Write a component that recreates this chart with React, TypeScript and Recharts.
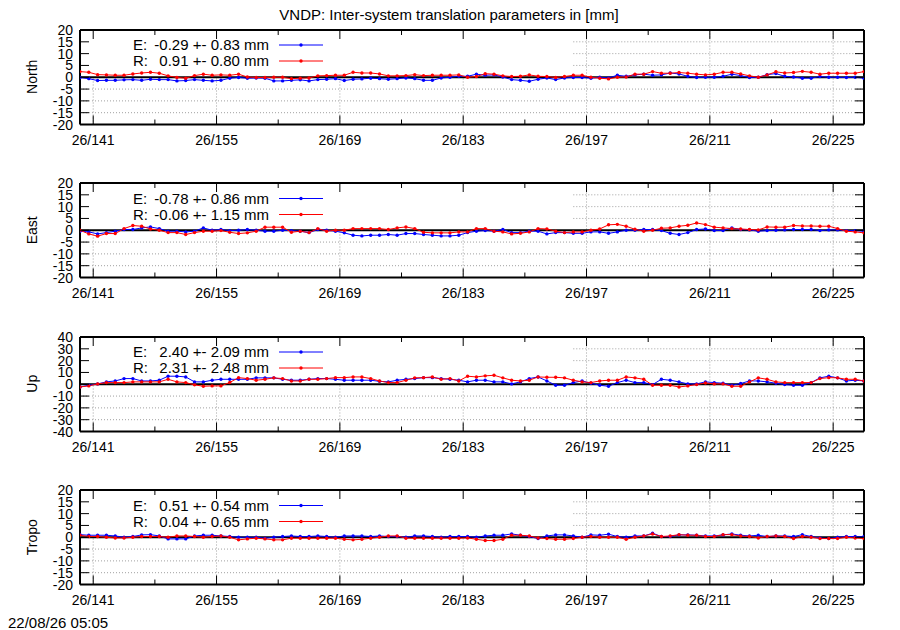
import React from 'react';
import { LineChart, Line, XAxis, YAxis, ReferenceLine } from 'recharts';

// ---------- data ----------
const DAYS = [
  139.5, 140.5, 141.5, 142.5, 143.5, 144.5, 145.5, 146.5, 147.5, 148.5,
  149.5, 150.5, 151.5, 152.5, 153.5, 154.5, 155.5, 156.5, 157.5, 158.5,
  159.5, 160.5, 161.5, 162.5, 163.5, 164.5, 165.5, 166.5, 167.5, 168.5,
  169.5, 170.5, 171.5, 172.5, 173.5, 174.5, 175.5, 176.5, 177.5, 178.5,
  179.5, 180.5, 181.5, 182.5, 183.5, 184.5, 185.5, 186.5, 187.5, 188.5,
  189.5, 190.5, 191.5, 192.5, 193.5, 194.5, 195.5, 196.5, 197.5, 198.5,
  199.5, 200.5, 201.5, 202.5, 203.5, 204.5, 205.5, 206.5, 207.5, 208.5,
  209.5, 210.5, 211.5, 212.5, 213.5, 214.5, 215.5, 216.5, 217.5, 218.5,
  219.5, 220.5, 221.5, 222.5, 223.5, 224.5, 225.5, 226.5, 227.5, 228.5,
];

const MAJOR_DAYS = [141, 155, 169, 183, 197, 211, 225];
const MAJOR_LABELS = ['26/141', '26/155', '26/169', '26/183', '26/197', '26/211', '26/225'];
const X_TICKS = [141, 148, 155, 162, 169, 176, 183, 190, 197, 204, 211, 218, 225];
const Y_TICKS_20 = [-20, -15, -10, -5, 0, 5, 10, 15, 20];
const Y_TICKS_40 = [-40, -30, -20, -10, 0, 10, 20, 30, 40];

const NORTH_E = [
  -0.1, -0.6, -1.4, -1.3, -1.3, -1.1, -1.0, -1.3, -0.85, -1.0,
  -1.0, -1.55, -1.4, -1.0, -1.3, -1.55, -1.3, -0.4, -0.1, -0.4,
  -0.3, -0.4, -1.55, -1.55, -1.3, -1.1, -1.55, -1.0, -0.85, -0.6,
  -1.4, -0.85, -0.7, -0.4, -0.6, -0.85, -0.6, -0.3, -0.6, -1.3,
  -1.3, -0.3, 0.0,
  0.4, 0.4, 1.3, 0.85, 1.0, 0.1, -1.0, -1.3, -1.7, -0.85,
  -0.3, -1.0, -0.3, -0.1, -0.1, -0.4, 0.0, -0.3, 0.85, 0.4,
  1.0, 1.3, 0.85, 1.0, 1.8, 1.4, 0.4, -0.1, 0.0, 0.0,
  0.4, 1.3, 0.7, -0.1, 0.0, 1.1, 1.55, 0.4, 0.1, -0.4,
  -0.4, 0.3, 0.0, 0.0, -0.1, 0.0, -0.4,
];
const NORTH_R = [
  2.4, 2.1, 1.1, 1.0, 0.85, 0.85, 1.4, 1.8, 2.1, 1.7,
  0.6, -0.1, -0.4, 0.7, 1.3, 0.85, 1.0, 0.85, 1.3, 0.1,
  -0.1, -0.1, 0.0, 0.0, -0.6, -0.4, -0.3, 0.6, 0.7, 0.85,
  0.85, 2.1, 1.8, 1.8, 1.4, 0.6, 0.6, 0.7, 1.1, 0.7,
  0.85, 0.85, 0.85,
  1.0, 0.0, 0.3, 1.5, 1.3, 0.6, 0.3, 0.4, 1.0, 0.4,
  0.3, -0.1, 0.3, 0.85, 0.85, 0.0, -0.4, -0.7, 0.0, 0.1,
  1.3, 1.3, 2.4, 1.7, 1.7, 2.0, 1.7, 1.3, 1.0, 1.3,
  2.1, 2.1, 1.4, 0.6, 0.0, 1.0, 2.3, 1.8, 2.0, 2.5,
  2.1, 1.3, 1.7, 1.7, 1.7, 1.7, 2.4,
];
const EAST_E = [
  -0.4, -0.7, -1.55, -1.0, -0.4, 0.3, 0.3, 1.0, 1.4, 0.7,
  -0.4, -0.4, -0.7, -0.4, 1.0, 0.0, 0.3, -0.15, 0.0, 0.3,
  0.0, -0.4, -0.4, 0.0, -0.15, -0.4, -1.0, 0.3, 0.0, -0.4,
  -1.1, -2.1, -2.4, -2.1, -2.1, -1.8, -2.1, -1.4, -1.4, -1.8,
  -2.1, -2.4, -2.4, -2.1, -1.0,
  -0.4, -0.15, -0.4, 0.3, -1.0, -1.0, -0.4, -0.4, -1.55, -1.0,
  -1.0, -1.3, -1.3, -0.7, -0.7, -1.3, -0.7, 0.0, 0.0, 0.3,
  0.3, -0.15, -1.3, -1.8, -1.0, 0.3, 0.55, -0.15, -0.15, 1.0,
  0.3, 0.15, -0.4, -0.15, 0.0, 0.15, 0.3, 0.3, 0.3, -0.15,
  0.15, 0.15, -0.15, -0.15, -0.4,
];
const EAST_R = [
  0.0, -1.55, -2.5, -1.4, -1.4, 0.7, 2.0, 1.7, 0.55, 0.0,
  -1.0, -1.0, -1.8, -1.0, -0.4, -0.4, -0.15, -0.85, -1.4, -1.1,
  -0.4, 1.3, 1.3, 1.3, -0.85, -0.4, -1.0, 0.7, -0.4, 0.0,
  0.0, 0.7, 0.7, 0.7, 0.7, 0.3, 1.0, 1.4, 0.7, -0.85,
  -1.1, -1.1, -1.1, -0.7, -0.7,
  0.7, 0.7, -0.4, -0.7, -1.55, -1.3, -0.7, 0.7, 0.55, -0.4,
  -1.0, -0.7, -0.7, 0.0, 0.55, 2.3, 2.5, 1.7, 0.4, -0.4,
  0.0, 0.85, 1.0, 1.7, 2.1, 3.1, 2.4, 1.3, 1.0, 0.7,
  0.55, 0.3, 0.15, 1.4, 1.3, 1.3, 2.0, 1.8, 1.8, 1.7,
  1.7, 0.7, -0.4, -0.7, -1.1,
];
const UP_E = [
  -2.3, -0.85, 0.3, 2.0, 2.8, 4.8, 4.8, 2.8, 2.8, 3.4,
  6.8, 6.8, 6.2, 2.0, 2.0, 3.4, 4.2, 4.2, 4.2, 4.2,
  5.4, 5.4, 5.4, 4.2, 3.4, 3.4, 4.2, 4.8, 4.8, 4.2,
  3.4, 3.4, 3.4, 3.4, 2.5, 2.0, 3.4, 4.2, 4.8, 5.6,
  5.6, 4.8, 4.2, 3.4, 2.0,
  3.4, 3.4, 2.0, 2.0, 0.3, 2.0, 4.8, 6.2, 2.8, -0.85,
  -0.85, 1.4, 2.8, 0.85, -0.85, -1.7, 1.4, 3.4, 1.4, 1.4,
  -0.3, 4.2, 3.4, 2.0, 0.3, 0.3, 2.0, 1.4, 0.85, -0.85,
  0.6, 2.8, 2.8, 2.0, 0.85, -0.3, -0.85, -0.85, 1.4, 5.4,
  6.8, 5.4, 2.8, 3.4, 2.8,
];
const UP_R = [
  -2.3, -1.4, 0.3, 1.4, 1.4, 1.4, 2.0, 2.0, 2.0, 2.0,
  4.2, 2.0, 1.4, -0.5, -1.7, -1.4, -1.4, 1.5, 5.6, 4.8,
  3.4, 4.2, 5.4, 4.8, 2.8, 2.8, 4.2, 4.2, 4.8, 5.6,
  5.6, 6.2, 6.2, 4.8, 2.8, 1.4, 1.4, 3.4, 5.4, 5.6,
  6.2, 4.2, 4.8, 2.8, 6.8,
  6.2, 7.1, 7.6, 5.4, 3.4, 2.8, 3.4, 6.2, 5.9, 5.9,
  5.4, 3.4, 2.0, 1.4, 2.8, 3.4, 3.4, 6.2, 5.4, 4.2,
  -0.85, -0.85, -0.85, -2.3, -1.4, -0.3, 1.1, 0.3, 0.3, -1.7,
  -1.7, 2.0, 5.4, 4.2, 2.0, 1.4, 1.4, 1.4, 1.4, 4.8,
  5.6, 5.4, 4.2, 4.2, 2.8,
];
const TROPO_E = [
  1.1, 0.85, 0.85, 0.85, 0.55, 0.0, 0.3, 1.0, 1.1, 0.55,
  -0.7, -0.7, -0.7, 0.55, 0.85, 0.85, 0.55, 0.3, 0.0, 0.0,
  0.0, -0.4, 0.0, 0.3, 0.55, 0.3, 0.3, 0.55, 0.3, 0.0,
  0.55, 0.55, 0.55, 0.3, 0.55, 0.3, 0.3, 0.0, 0.55, 0.55,
  0.3, 0.0, 0.3, 0.3, 0.3,
  0.0, 0.55, 0.85, 0.85, 1.4, 0.85, 0.3, -0.55, 0.55, 1.0,
  1.0, 0.55, 0.0, 1.0, 0.85, 1.3, 0.3, 0.0, 0.55, 0.55,
  1.7, 0.3, 0.3, 1.0, 1.0, 0.85, 0.55, 0.55, 1.0, 1.4,
  0.85, 0.55, 0.85, 0.3, 0.55, 0.55, 0.3, 1.1, 0.3, -0.3,
  -0.55, 0.0, 0.3, 0.3, 0.3,
];
const TROPO_R = [
  0.85, 0.3, 0.3, 0.0, -0.3, -0.3, 0.0, 0.3, 0.3, 0.3,
  0.0, 0.55, 0.55, 0.3, 0.0, 0.3, 0.55, 0.0, -1.1, -0.7,
  -0.4, -0.7, -1.1, -1.1, -0.4, -0.4, -0.4, -0.4, -0.4, -0.4,
  -0.85, -1.1, -0.85, -0.4, 0.0, 0.55, 0.55, -0.4, -0.4, -0.4,
  -0.4, -0.4, -0.4, -0.4, -0.3,
  -0.85, -1.4, -1.4, -0.85, 0.85, 0.85, 0.55, -0.3, -0.55, -0.85,
  -0.85, -0.55, 0.0, 0.3, 0.0, 0.0, 0.0, -0.85, 0.0, 0.55,
  1.4, 0.3, 0.55, 1.1, 0.85, 0.85, 0.3, 0.3, 1.1, 1.1,
  0.55, 0.3, -0.3, 0.3, 0.55, 0.3, -0.55, 0.3, 0.0, -0.55,
  -0.55, -0.55, 0.0, -0.3, -0.55,
];

const PANEL_NAMES = ['North', 'East', 'Up', 'Tropo'];
const E_STATS = ['-0.29 +- 0.83 mm', '-0.78 +- 0.86 mm', '2.40 +- 2.09 mm', '0.51 +- 0.54 mm'];
const R_STATS = ['0.91 +- 0.80 mm', '-0.06 +- 1.15 mm', '2.31 +- 2.48 mm', '0.04 +- 0.65 mm'];
const E_SERIES = [NORTH_E, EAST_E, UP_E, TROPO_E];
const R_SERIES = [NORTH_R, EAST_R, UP_R, TROPO_R];
const Y_TICK_SETS = [Y_TICKS_20, Y_TICKS_20, Y_TICKS_40, Y_TICKS_20];

const TITLE = 'VNDP: Inter-system translation parameters in [mm]';
const TIMESTAMP = '22/08/26 05:05';

// ---------- layout / style ----------
const FONT = '"Liberation Sans", Arial, Helvetica, sans-serif';
const E_COLOR = '#0000ff';
const R_COLOR = '#ff0000';
const GRID_COLOR = '#a0a0a0';
const PLOT_H = 94.5;
const PANEL_TOPS = [29.5, 183, 336.5, 490];
const X_DOMAIN: [number, number] = [139.5, 228.5];
const LEGEND_BOX_END = 195.5;
const CHART_TOP_PAD = 10;
const CHART_BOTTOM_AXIS = 30;

const BottomTick = (props: any) => {
  const { x, y, payload } = props;
  const idx = MAJOR_DAYS.indexOf(payload.value);
  const major = idx >= 0;
  return (
    <g>
      <line x1={x} y1={y} x2={x} y2={y - (major ? 9 : 5)} stroke="#000" strokeWidth={1} />
      {major && (
        <text x={x} y={y + 20} textAnchor="middle" fontSize={14} fontFamily={FONT} fill="#000">
          {MAJOR_LABELS[idx]}
        </text>
      )}
    </g>
  );
};

const TopTick = (props: any) => {
  const { x, y, payload } = props;
  const major = MAJOR_DAYS.indexOf(payload.value) >= 0;
  return <line x1={x} y1={y} x2={x} y2={y + (major ? 9 : 5)} stroke="#000" strokeWidth={1} />;
};

const LeftTick = (props: any) => {
  const { x, y, payload } = props;
  return (
    <g>
      <line x1={x} y1={y} x2={x + 9} y2={y} stroke="#000" strokeWidth={1} />
      <text x={x - 7} y={y + 5} textAnchor="end" fontSize={14} fontFamily={FONT} fill="#000">
        {String(payload.value)}
      </text>
    </g>
  );
};

const RightTick = (props: any) => {
  const { x, y } = props;
  return <line x1={x} y1={y} x2={x - 9} y2={y} stroke="#000" strokeWidth={1} />;
};

function Panel({ index }: { index: number }) {
  const eVals = E_SERIES[index];
  const rVals = R_SERIES[index];
  const yTicks = Y_TICK_SETS[index];
  const R = yTicks[yTicks.length - 1];
  const data = DAYS.map((d, i) => ({ day: d, e: eVals[i], r: rVals[i] }));
  const gridY = yTicks.filter((v) => v !== 0 && Math.abs(v) !== R);
  const gridProps = { stroke: GRID_COLOR, strokeDasharray: '1 2', strokeWidth: 1, xAxisId: 'b', yAxisId: 'l' };
  return (
    <div style={{ position: 'absolute', left: 0, top: PANEL_TOPS[index] - CHART_TOP_PAD }}>
      <LineChart
        width={900}
        height={CHART_TOP_PAD + PLOT_H + CHART_BOTTOM_AXIS}
        data={data}
        margin={{ top: 5, right: 0, bottom: 0, left: 0 }}
      >
        <XAxis
          xAxisId="b"
          dataKey="day"
          type="number"
          domain={X_DOMAIN}
          ticks={X_TICKS}
          interval={0}
          tickSize={0}
          tickMargin={0}
          tickLine={false}
          axisLine={{ stroke: '#000', strokeWidth: 2 }}
          tick={BottomTick}
          height={CHART_BOTTOM_AXIS}
          allowDataOverflow
        />
        <XAxis
          xAxisId="t"
          orientation="top"
          dataKey="day"
          type="number"
          domain={X_DOMAIN}
          ticks={X_TICKS}
          interval={0}
          tickSize={0}
          tickMargin={0}
          tickLine={false}
          axisLine={{ stroke: '#000', strokeWidth: 2 }}
          tick={TopTick}
          height={5}
          allowDataOverflow
        />
        <YAxis
          yAxisId="l"
          type="number"
          domain={[-R, R]}
          ticks={yTicks}
          interval={0}
          tickSize={0}
          tickMargin={0}
          tickLine={false}
          axisLine={{ stroke: '#000', strokeWidth: 2 }}
          tick={LeftTick}
          width={80}
          allowDataOverflow
        />
        <YAxis
          yAxisId="r"
          orientation="right"
          type="number"
          domain={[-R, R]}
          ticks={yTicks}
          interval={0}
          tickSize={0}
          tickMargin={0}
          tickLine={false}
          axisLine={{ stroke: '#000', strokeWidth: 2 }}
          tick={RightTick}
          width={36}
          allowDataOverflow
        />
        {gridY.map((v) =>
          v > 0 ? (
            <ReferenceLine
              key={'gy' + v}
              {...gridProps}
              segment={[
                { x: LEGEND_BOX_END, y: v },
                { x: X_DOMAIN[1], y: v },
              ]}
            />
          ) : (
            <ReferenceLine key={'gy' + v} {...gridProps} y={v} />
          )
        )}
        {MAJOR_DAYS.map((d) =>
          d < LEGEND_BOX_END ? (
            <ReferenceLine
              key={'gx' + d}
              {...gridProps}
              segment={[
                { x: d, y: -R },
                { x: d, y: 0 },
              ]}
            />
          ) : (
            <ReferenceLine key={'gx' + d} {...gridProps} x={d} />
          )
        )}
        <ReferenceLine xAxisId="b" yAxisId="l" y={0} stroke="#000" strokeWidth={2} />
        <Line
          xAxisId="b"
          yAxisId="l"
          type="linear"
          dataKey="e"
          stroke={E_COLOR}
          strokeWidth={1}
          dot={{ r: 1.7, fill: E_COLOR, stroke: 'none' }}
          activeDot={false}
          isAnimationActive={false}
        />
        <Line
          xAxisId="b"
          yAxisId="l"
          type="linear"
          dataKey="r"
          stroke={R_COLOR}
          strokeWidth={1}
          dot={{ r: 1.7, fill: R_COLOR, stroke: 'none' }}
          activeDot={false}
          isAnimationActive={false}
        />
      </LineChart>
    </div>
  );
}

function Overlay() {
  return (
    <svg
      width={900}
      height={630}
      style={{ position: 'absolute', left: 0, top: 0, pointerEvents: 'none' }}
    >
      <text x={449} y={20} textAnchor="middle" fontSize={15} fontFamily={FONT} fill="#000">
        {TITLE}
      </text>
      {PANEL_NAMES.map((name, i) => {
        const top = PANEL_TOPS[i];
        const mid = top + PLOT_H / 2;
        const row1 = top + 15.5;
        const row2 = top + 31.5;
        return (
          <g key={name}>
            <text
              x={37}
              y={mid}
              transform={`rotate(-90 37 ${mid})`}
              textAnchor="middle"
              fontSize={14}
              fontFamily={FONT}
              fill="#000"
            >
              {name}
            </text>
            <text x={133} y={row1 + 5} fontSize={15} fontFamily={FONT} fill="#000">E:</text>
            <text x={269} y={row1 + 5} textAnchor="end" fontSize={15} fontFamily={FONT} fill="#000">
              {E_STATS[i]}
            </text>
            <line x1={279} y1={row1} x2={323} y2={row1} stroke={E_COLOR} strokeWidth={1} />
            <circle cx={301} cy={row1} r={1.7} fill={E_COLOR} />
            <text x={133} y={row2 + 5} fontSize={15} fontFamily={FONT} fill="#000">R:</text>
            <text x={269} y={row2 + 5} textAnchor="end" fontSize={15} fontFamily={FONT} fill="#000">
              {R_STATS[i]}
            </text>
            <line x1={279} y1={row2} x2={323} y2={row2} stroke={R_COLOR} strokeWidth={1} />
            <circle cx={301} cy={row2} r={1.7} fill={R_COLOR} />
          </g>
        );
      })}
      <text x={8} y={628} fontSize={15} fontFamily={FONT} fill="#000">
        {TIMESTAMP}
      </text>
    </svg>
  );
}

export default function App() {
  return (
    <div
      style={{
        position: 'absolute',
        left: 0,
        top: 0,
        width: 900,
        height: 630,
        background: '#fff',
        overflow: 'hidden',
      }}
    >
      {PANEL_NAMES.map((name, i) => (
        <Panel key={name} index={i} />
      ))}
      <Overlay />
    </div>
  );
}
